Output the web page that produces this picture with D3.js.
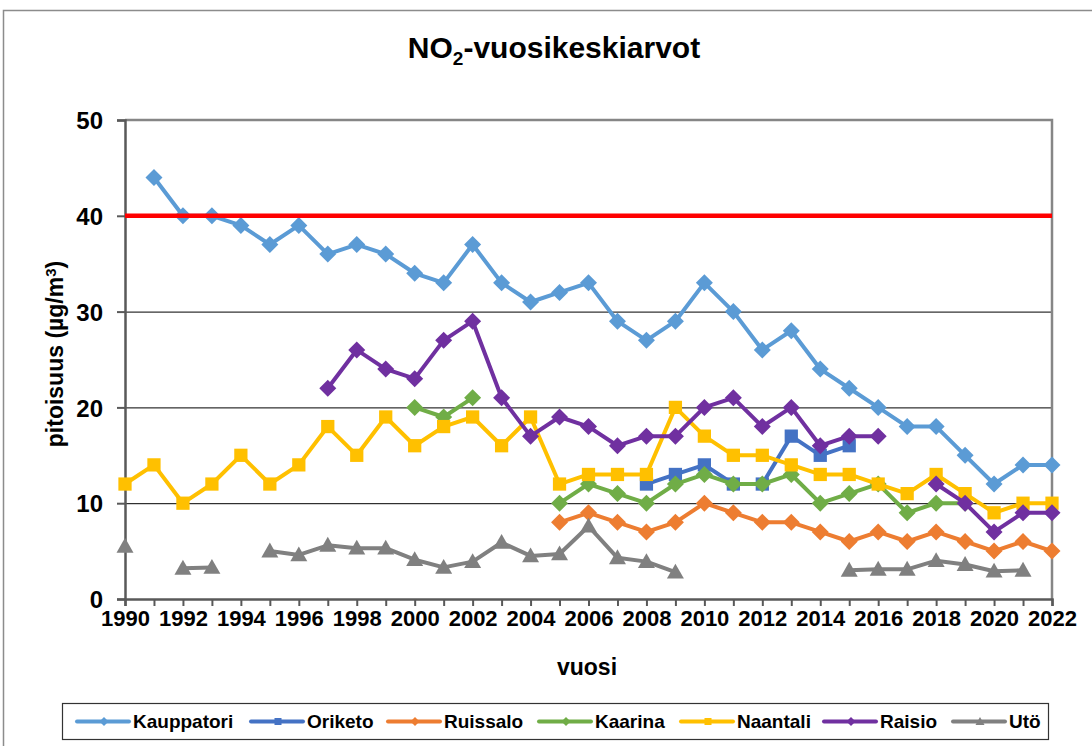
<!DOCTYPE html>
<html lang="fi">
<head>
<meta charset="UTF-8" />
<title>NO2-vuosikeskiarvot</title>
<style>
  body { margin: 0; background: #fff; }
  svg { display: block; font-family: "Liberation Sans", Arial, sans-serif; font-weight: bold; }
</style>
</head>
<body>
<svg id="svg" width="1092" height="746"></svg>
<script src="https://d3js.org/d3.v7.min.js"></script>
<script>
// years 1990..2022, null = no measurement
const years = d3.range(1990, 2023);
const kauppatori = [null, 44, 40, 40, 39, 37, 39, 36, 37, 36, 34, 33, 37, 33, 31, 32, 33, 29, 27, 29, 33, 30, 26, 28, 24, 22, 20, 18, 18, 15, 12, 14, 14];
const oriketo = [null, null, null, null, null, null, null, null, null, null, null, null, null, null, null, null, null, null, 12, 13, 14, 12, 12, 17, 15, 16, null, null, null, null, null, null, null];
const ruissalo = [null, null, null, null, null, null, null, null, null, null, null, null, null, null, null, 8, 9, 8, 7, 8, 10, 9, 8, 8, 7, 6, 7, 6, 7, 6, 5, 6, 5];
const kaarina = [null, null, null, null, null, null, null, null, null, null, 20, 19, 21, null, null, 10, 12, 11, 10, 12, 13, 12, 12, 13, 10, 11, 12, 9, 10, 10, null, null, null];
const naantali = [12, 14, 10, 12, 15, 12, 14, 18, 15, 19, 16, 18, 19, 16, 19, 12, 13, 13, 13, 20, 17, 15, 15, 14, 13, 13, 12, 11, 13, 11, 9, 10, 10];
const raisio = [null, null, null, null, null, null, null, 22, 26, 24, 23, 27, 29, 21, 17, 19, 18, 16, 17, 17, 20, 21, 18, 20, 16, 17, 17, null, 12, 10, 7, 9, 9];
const uto = [5.5, null, 3.2, 3.3, null, 5.0, 4.6, 5.6, 5.3, 5.3, 4.1, 3.3, 3.9, 5.9, 4.5, 4.7, 7.6, 4.3, 3.9, 2.8, null, null, null, null, null, 3.0, 3.1, 3.1, 4.0, 3.6, 2.9, 3.0, null];
const limitValue = 40;
const yTicks = [0, 10, 20, 30, 40, 50];
const xLabelYears = d3.range(1990, 2023, 2);

const series = [
  { name: 'Kauppatori', values: kauppatori, color: '#5B9BD5', marker: 'diamond' },
  { name: 'Oriketo', values: oriketo, color: '#4472C4', marker: 'square' },
  { name: 'Ruissalo', values: ruissalo, color: '#ED7D31', marker: 'diamond' },
  { name: 'Kaarina', values: kaarina, color: '#70AD47', marker: 'diamond' },
  { name: 'Naantali', values: naantali, color: '#FFC000', marker: 'square' },
  { name: 'Raisio', values: raisio, color: '#7030A0', marker: 'diamond' },
  { name: 'Utö', values: uto, color: '#808080', marker: 'triangle' }
];
const legendX = [77, 251, 388, 539, 681, 824, 953];

const svg = d3.select('#svg');
const plotL = 125, plotR = 1052, plotT = 120, plotB = 599;
const x = d3.scaleLinear().domain([1990, 2022]).range([plotL, plotR]);
const y = d3.scaleLinear().domain([0, 50]).range([plotB, plotT]);

// outer chart border
svg.append('rect').attr('x', 3.5).attr('y', 10.5).attr('width', 1100).attr('height', 800)
  .attr('fill', 'none').attr('stroke', '#8c8c8c').attr('stroke-width', 1.5);

// title
const title = svg.append('text').attr('x', 554).attr('y', 58).attr('text-anchor', 'middle')
  .attr('font-size', 30).attr('fill', '#000');
title.append('tspan').text('NO');
title.append('tspan').attr('font-size', 19).attr('dy', 7).text('2');
title.append('tspan').attr('dy', -7).text('-vuosikeskiarvot');

// gridlines
svg.append('g').selectAll('line').data(yTicks.filter(d => d > 0 && d < 50)).enter().append('line')
  .attr('x1', plotL).attr('x2', plotR).attr('y1', d => y(d) + 0.5).attr('y2', d => y(d) + 0.5)
  .attr('stroke', '#000').attr('stroke-width', 1);

// plot frame top / right
svg.append('path').attr('d', `M${plotL},${plotT}H${plotR}V${plotB}`)
  .attr('fill', 'none').attr('stroke', '#868686').attr('stroke-width', 2.5);

// y axis
const yAxis = d3.axisLeft(y).tickValues(yTicks).tickSize(8).tickPadding(14).tickFormat(d3.format('d'));
const gy = svg.append('g').attr('transform', `translate(${plotL},0)`).call(yAxis);
gy.select('.domain').attr('stroke', '#595959').attr('stroke-width', 2.5);
gy.selectAll('.tick line').attr('stroke', '#595959').attr('stroke-width', 2);
gy.selectAll('.tick text').attr('font-size', 24).attr('font-family', '"Liberation Sans", Arial, sans-serif')
  .attr('font-weight', 'bold').attr('fill', '#000').attr('dy', '0.36em');

// x axis
const xAxis = d3.axisBottom(x).tickValues(years).tickSize(7).tickPadding(4)
  .tickFormat(d => xLabelYears.includes(d) ? d : '');
const gx = svg.append('g').attr('transform', `translate(0,${plotB})`).call(xAxis);
gx.select('.domain').attr('stroke', '#595959').attr('stroke-width', 2.5);
gx.selectAll('.tick line').attr('stroke', '#595959').attr('stroke-width', 2);
gx.selectAll('.tick text').attr('font-size', 22).attr('font-family', '"Liberation Sans", Arial, sans-serif')
  .attr('font-weight', 'bold').attr('fill', '#000');

// axis titles
const yl = svg.append('text').attr('transform', 'translate(63,354) rotate(-90)').attr('text-anchor', 'middle')
  .attr('font-size', 23).attr('fill', '#000');
yl.append('tspan').text('pitoisuus (µg/m');
yl.append('tspan').attr('font-size', 15).attr('baseline-shift', '45%').text('3');
yl.append('tspan').text(')');

svg.append('text').attr('x', 587).attr('y', 675).attr('text-anchor', 'middle')
  .attr('font-size', 23).attr('fill', '#000').text('vuosi');

// marker shapes
function markerPath(type, s) {
  if (type === 'diamond') return `M0,${-s}L${s},0L0,${s}L${-s},0Z`;
  if (type === 'square') return `M${-s * 0.78},${-s * 0.78}H${s * 0.78}V${s * 0.78}H${-s * 0.78}Z`;
  return `M0,${-s}L${s},${s * 0.75}L${-s},${s * 0.75}Z`;
}

const line = d3.line().defined(d => d.v != null).x(d => x(d.year)).y(d => y(d.v));

series.forEach(s => {
  const pts = years.map((yr, i) => ({ year: yr, v: s.values[i] }));
  const g = svg.append('g');
  g.append('path').datum(pts).attr('d', line).attr('fill', 'none')
    .attr('stroke', s.color).attr('stroke-width', 4).attr('stroke-linejoin', 'round');
  g.selectAll('path.m').data(pts.filter(d => d.v != null)).enter().append('path').attr('class', 'm')
    .attr('transform', d => `translate(${x(d.year)},${y(d.v)})`)
    .attr('d', markerPath(s.marker, 8.5))
    .attr('fill', s.color);
});

// limit value line
svg.append('line').attr('x1', plotL).attr('x2', plotR).attr('y1', y(limitValue)).attr('y2', y(limitValue))
  .attr('stroke', '#FF0000').attr('stroke-width', 4.5);

// legend
svg.append('rect').attr('x', 62.5).attr('y', 703.5).attr('width', 986).attr('height', 36)
  .attr('fill', '#fff').attr('stroke', '#333').attr('stroke-width', 1.2);
const lg = svg.append('g').selectAll('g').data(series).enter().append('g')
  .attr('transform', (d, i) => `translate(${legendX[i]},721.5)`);
lg.append('line').attr('x1', 0).attr('x2', 52).attr('stroke', d => d.color).attr('stroke-width', 4)
  .attr('stroke-linecap', 'round');
lg.append('path').attr('transform', 'translate(27,0)').attr('d', d => markerPath(d.marker, 4.5)).attr('fill', d => d.color);
lg.append('text').attr('x', 56).attr('dy', '0.36em').attr('font-size', 19).attr('fill', '#000').text(d => d.name);
</script>
</body>
</html>
